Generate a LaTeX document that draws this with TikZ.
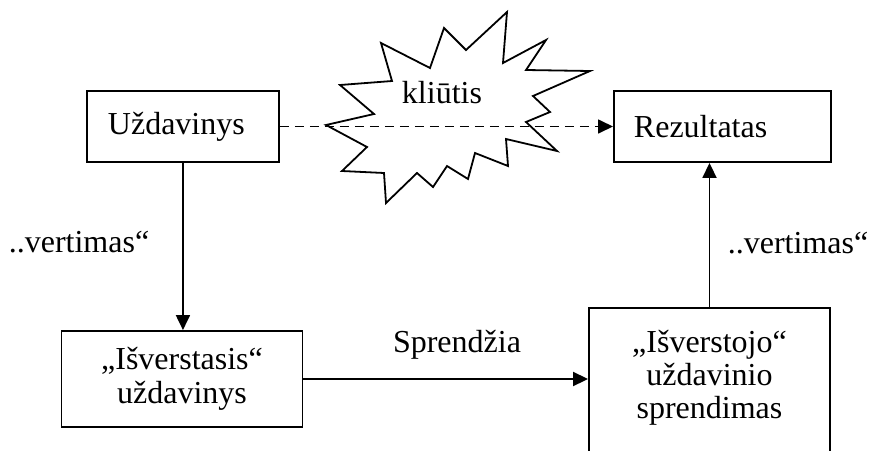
\documentclass[tikz,border=0pt]{standalone}
\usepackage{fontspec}
\setmainfont{Liberation Serif}
\usetikzlibrary{arrows.meta}
\begin{document}
\begin{tikzpicture}[x=1pt,y=-1pt,
  line width=1.9pt,
  txt/.style={font=\fontsize{32}{34}\selectfont, inner sep=0pt},
  box/.style={draw, rectangle, inner ysep=0pt, font=\fontsize{32}{34}\selectfont},
  link/.style={-{Triangle[length=15pt,width=14pt]}},
  hidden/.style={link, dash pattern=on 9pt off 6pt, line width=1.7pt}]
\useasboundingbox (0,0) rectangle (869,450);
\clip (0,0) rectangle (869,450);

% boxes
\node[box, anchor=west, minimum height=71pt, inner xsep=21pt, text width=150pt, align=left]
  (uzd) at (86,126.5) {Uždavinys};
\node[box, anchor=west, minimum height=71pt, inner xsep=20pt, text width=177pt, align=left]
  (rez) at (613,126.5) {Rezultatas};
\node[box, minimum width=241pt, minimum height=96pt, align=center]
  (isv) at (182,379) {„Išverstasis“\\uždavinys};
\node[box, anchor=north, minimum width=241pt, minimum height=180pt]
  (sol) at (709.5,307) {};
\node[txt, align=center, font=\fontsize{32}{33}\selectfont] (soltext) at (709.5,378)
  {„Išverstojo“\\uždavinio\\sprendimas};

% obstacle burst
\draw[line width=1.8pt, line join=miter]
  (326,125) -- (374,114) -- (340,85) -- (392,81) -- (381,43) -- (430,68)
  -- (444,28) -- (466,50) -- (507,12) -- (503,63) -- (546,40) -- (526,70)
  -- (590,71) -- (533,96) -- (550,112) -- (526,122) -- (557,151) -- (506,139)
  -- (508,166) -- (475,153) -- (468,179) -- (447,166) -- (433,187) -- (417,173)
  -- (386,203) -- (384,173) -- (342,171) -- (367,147) -- cycle;
\node[txt] (kliutis) at (442,93) {kliūtis};

% connectors
\draw[hidden] (uzd.east) -- (rez.west);
\draw[link] (uzd.south) -- (uzd.south |- isv.north);
\draw[link] (isv.east) -- (isv.east -| sol.west);
\draw[link] (sol.north) -- (sol.north |- rez.south);

% labels
\node[txt] (vl) at (79,242) {..vertimas“};
\node[txt] (vr) at (798,243) {..vertimas“};
\node[txt] (spr) at (457,345) {Sprendžia};
\end{tikzpicture}
\end{document}
